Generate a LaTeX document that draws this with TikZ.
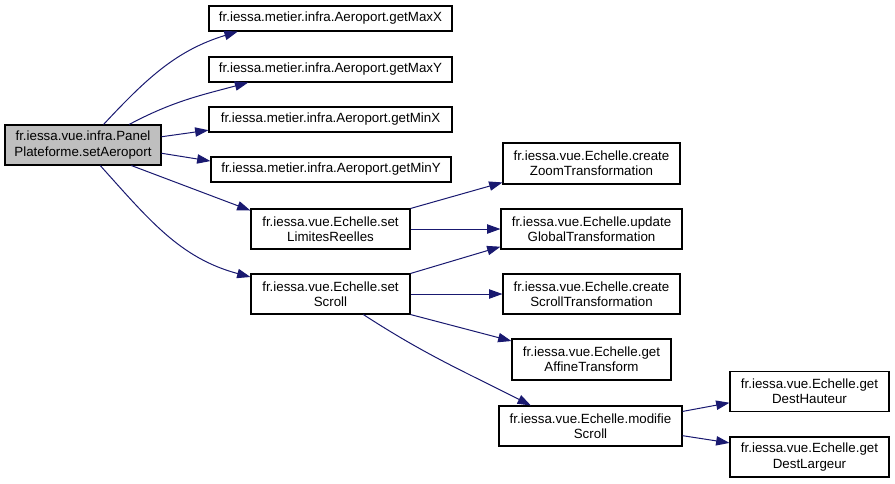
\documentclass[tikz,border=0pt]{standalone}
\usepackage{fontspec}
\setmainfont{Liberation Sans}
\usetikzlibrary{shapes.geometric, arrows.meta, positioning}
\definecolor{azulflecha}{HTML}{191970}
\definecolor{grisnodo}{HTML}{BFBFBF}
\tikzstyle{block} = [rectangle, draw, inner sep=0pt, align=center, font=\fontsize{10}{11.5}\selectfont, line width=0.8pt, minimum height=30pt]
\tikzstyle{simple} = [block, minimum height=18.75pt]
\tikzstyle{arrow} = [draw=azulflecha, -{Triangle[length=10pt, width=7pt]}, line width=0.75pt]

\begin{document}
\begin{tikzpicture}[x=0.75pt, y=0.75pt]
  \useasboundingbox (0,0) rectangle (895,-483);

  % Nodo de partida
  \node (root) [block, fill=grisnodo, minimum width=117pt] at (83,-145) {fr.iessa.vue.infra.Panel\\Plateforme.setAeroport};

  % Llamadas a Aeroport
  \node (maxx) [simple, minimum width=182.25pt] at (330.5,-18.5) {fr.iessa.metier.infra.Aeroport.getMaxX};
  \node (maxy) [simple, minimum width=182.25pt] at (330.5,-69.5) {fr.iessa.metier.infra.Aeroport.getMaxY};
  \node (minx) [simple, minimum width=182.25pt] at (330.5,-119.5) {fr.iessa.metier.infra.Aeroport.getMinX};
  \node (miny) [simple, minimum width=180pt] at (331,-169.5) {fr.iessa.metier.infra.Aeroport.getMinY};

  % Llamadas a Echelle
  \node (limites) [block, minimum width=119.25pt] at (330.5,-229) {fr.iessa.vue.Echelle.set\\LimitesReelles};
  \node (scroll) [block, minimum width=119.25pt] at (330.5,-294) {fr.iessa.vue.Echelle.set\\Scroll};
  \node (zoom) [block, minimum width=132.75pt, minimum height=30.75pt] at (591.5,-163.5) {fr.iessa.vue.Echelle.create\\ZoomTransformation};
  \node (global) [block, minimum width=135.75pt] at (591.5,-229) {fr.iessa.vue.Echelle.update\\GlobalTransformation};
  \node (scrollt) [block, minimum width=132.75pt] at (591.5,-294) {fr.iessa.vue.Echelle.create\\ScrollTransformation};
  \node (affine) [block, minimum width=119.25pt, minimum height=30.75pt] at (591.5,-359.5) {fr.iessa.vue.Echelle.get\\AffineTransform};
  \node (modifie) [block, minimum width=137.25pt] at (590.5,-426) {fr.iessa.vue.Echelle.modifie\\Scroll};
  \node (hauteur) [block, minimum width=119.25pt, minimum height=29.5pt] at (809.5,-391.5) {fr.iessa.vue.Echelle.get\\DestHauteur};
  \node (largeur) [block, minimum width=119.25pt] at (809.5,-457) {fr.iessa.vue.Echelle.get\\DestLargeur};

  % Flechas desde el nodo de partida
  \draw [arrow] (root.45) to[out=47, in=197] (maxx.188);
  \draw [arrow] (root.24) to[out=28, in=195] (maxy.189);
  \draw [arrow] (root.6) -- (minx.185.4);
  \draw [arrow] (root.-6) -- (miny.176.4);
  \draw [arrow] (root.-23) -- (limites.167);
  \draw [arrow] (root.-50) to[out=-48, in=165] (scroll.168);

  % Flechas de setLimitesReelles y setScroll
  \draw [arrow] (limites.north east) -- (zoom.192);
  \draw [arrow] (limites.east) -- (global.west);
  \draw [arrow] (scroll.north east) -- (global.191);
  \draw [arrow] (scroll.east) -- (scrollt.west);
  \draw [arrow] (scroll.south east) -- (affine.167);
  \draw [arrow] (scroll.-32.4) to[out=-33, in=153] (modifie.161.7);

  % Flechas de modifieScroll
  \draw [arrow] (modifie.9.5) -- (hauteur.188.2);
  \draw [arrow] (modifie.-6.9) -- (largeur.170.7);

\end{tikzpicture}
\end{document}
